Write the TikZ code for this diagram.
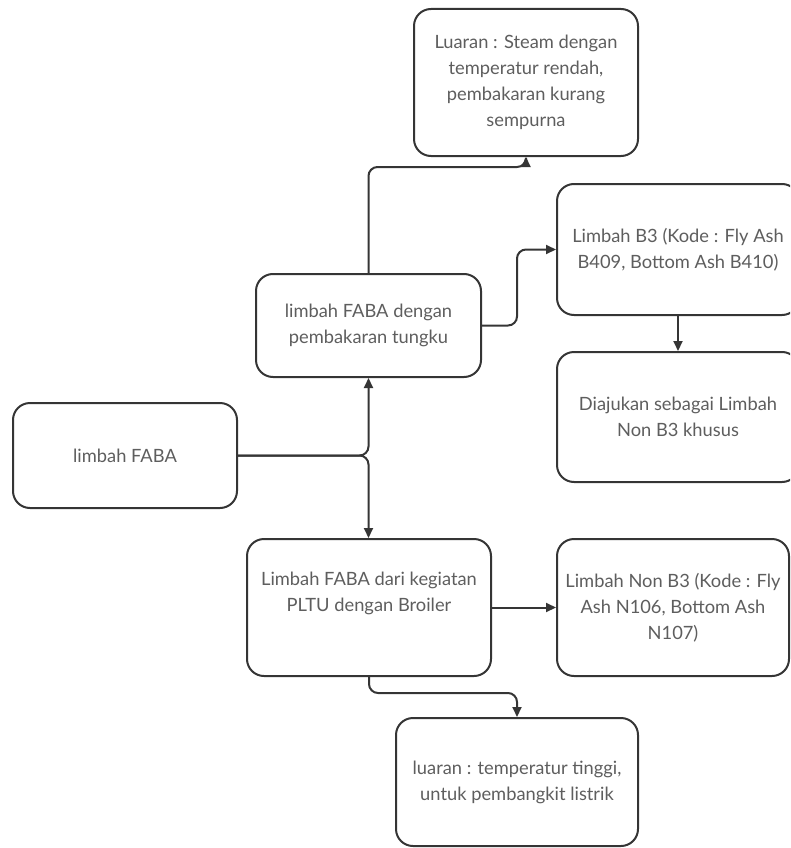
\documentclass[tikz,border=0pt]{standalone}
\usepackage{fontspec}
\setmainfont{Lato}
\usetikzlibrary{arrows.meta}
\definecolor{edge}{HTML}{353535}
\definecolor{txt}{HTML}{5E5E5E}
\tikzset{
  box/.style={draw=edge, line width=2pt, rounded corners=17pt, fill=white,
    align=center, text=txt, font=\fontsize{18.3}{26}\selectfont, inner sep=0pt},
  link/.style={draw=edge, line width=2pt, rounded corners=9pt,
    -{Triangle[length=10pt,width=9pt]}},
}
\newcommand{\boxat}[6]{% name, x1, y1, x2, y2, text
  \node[box, minimum width={#4-#2}, minimum height={#5-#3}]
    (#1) at ({(#2+#4)/2},{(#3+#5)/2}) {#6};}
\begin{document}
\begin{tikzpicture}[x=1pt,y=-1pt]
  \useasboundingbox (0,0) rectangle (790,848);
  \begin{scope}
  \clip (0,0) rectangle (790,848);
  % boxes
  \boxat{out1}{414}{9}{638}{156}{Luaran : Steam dengan\\temperatur rendah,\\pembakaran kurang\\sempurna}
  \boxat{tungku}{256}{274}{481}{377}{limbah FABA dengan\\pembakaran tungku}
  \boxat{bthree}{557}{184}{799}{315}{Limbah B3 (Kode : Fly Ash\\B409, Bottom Ash B410)}
  \boxat{khusus}{557}{352}{799}{482}{Diajukan sebagai Limbah\\Non B3 khusus}
  \boxat{faba}{13}{403}{237}{508}{limbah FABA}
  \boxat{pltu}{247}{539}{491}{676}{Limbah FABA dari kegiatan\\PLTU dengan Broiler\\[6pt]}
  \boxat{nonb}{557}{539}{789}{676}{Limbah Non B3 (Kode : Fly\\Ash N106, Bottom Ash\\N107)}
  \boxat{out2}{396}{718}{638}{846}{luaran : temperatur tinggi,\\untuk pembangkit listrik}
  % bend points
  \coordinate (top) at (450,167);
  \coordinate (step) at (517,300);
  \coordinate (low) at (440,693);
  % connectors
  \draw[link] (faba.east) -| (tungku.south);
  \draw[link] (faba.east) -| (tungku.south |- pltu.north);
  \draw[link] (tungku.north) |- (top) -| (out1.south);
  \draw[link] (tungku.east) -| (step) |- (bthree.west);
  \draw[link] (bthree.south -| 678,0) -- (khusus.north -| 678,0);
  \draw[link] (pltu.east) -- (nonb.west);
  \draw[link] (pltu.south) |- (low) -| (out2.north);
  \end{scope}
\end{tikzpicture}
\end{document}
